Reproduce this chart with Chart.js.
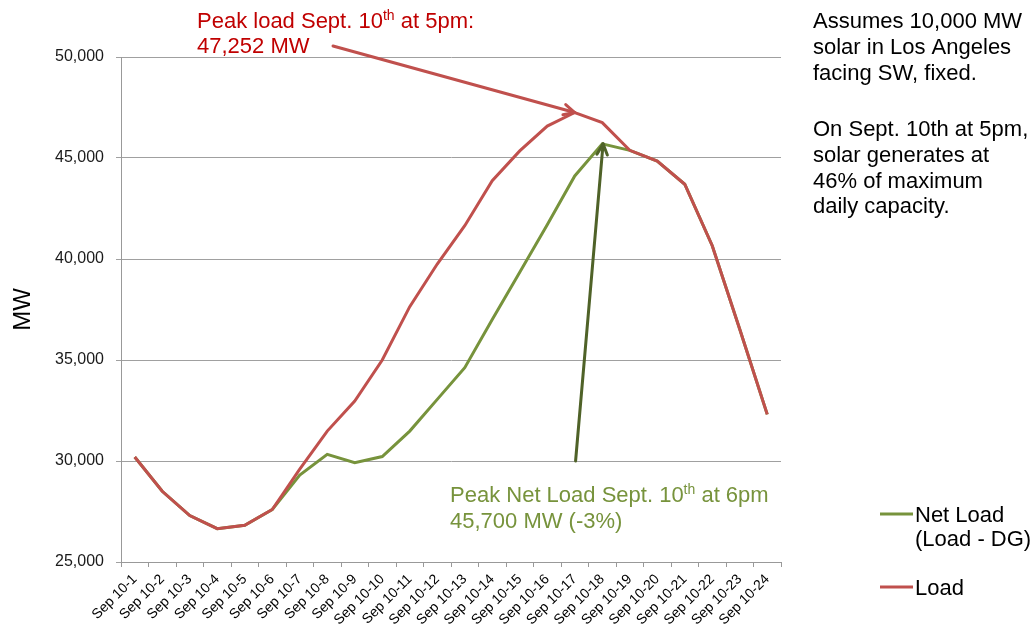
<!DOCTYPE html>
<html>
<head>
<meta charset="utf-8">
<script src="https://cdn.jsdelivr.net/npm/chart.js@4/dist/chart.umd.min.js"></script>
<style>
  html, body { margin: 0; padding: 0; background: #ffffff; }
  #wrap { position: relative; width: 1036px; height: 633px; }
</style>
</head>
<body>
<div id="wrap"><canvas id="c"></canvas></div>
<script>
// ---- Data ----
const categories = ['Sep 10-1','Sep 10-2','Sep 10-3','Sep 10-4','Sep 10-5','Sep 10-6','Sep 10-7','Sep 10-8',
  'Sep 10-9','Sep 10-10','Sep 10-11','Sep 10-12','Sep 10-13','Sep 10-14','Sep 10-15','Sep 10-16',
  'Sep 10-17','Sep 10-18','Sep 10-19','Sep 10-20','Sep 10-21','Sep 10-22','Sep 10-23','Sep 10-24'];
const loadMW = [30200, 28500, 27300, 26650, 26820, 27600, 29600, 31480, 32970, 35000, 37640, 39750,
  41650, 43880, 45350, 46580, 47252, 46750, 45380, 44850, 43700, 40660, 36520, 32310];
const netLoadMW = [30200, 28500, 27300, 26650, 26820, 27600, 29300, 30330, 29920, 30220, 31480, 33050,
  34620, 37010, 39340, 41700, 44110, 45700, 45380, 44850, 43700, 40660, 36520, 32310];
const yTicks = [25000, 30000, 35000, 40000, 45000, 50000];
const seriesNames = ['Load', 'Net Load'];
const legendLabels = [['Net Load', '(Load - DG)'], ['Load']];
const peakLoadIndex = 16, peakLoadValue = 47252;
const peakNetIndex = 17, peakNetValue = 45700;

const FONT = "'Liberation Sans', Arial, sans-serif";
const RED = '#c0504d', GREEN = '#77933c';

Chart.defaults.font.family = FONT;

function drawArrow(ctx, x1, y1, x2, y2, color, w) {
  ctx.save();
  ctx.strokeStyle = color; ctx.lineWidth = w; ctx.lineCap = 'round'; ctx.lineJoin = 'round';
  ctx.beginPath(); ctx.moveTo(x1, y1); ctx.lineTo(x2, y2); ctx.stroke();
  const a = Math.atan2(y2 - y1, x2 - x1), L = 12, s = 0.45;
  ctx.beginPath();
  ctx.moveTo(x2 - L * Math.cos(a - s), y2 - L * Math.sin(a - s));
  ctx.lineTo(x2, y2);
  ctx.lineTo(x2 - L * Math.cos(a + s), y2 - L * Math.sin(a + s));
  ctx.stroke();
  ctx.restore();
}

function supText(ctx, x, y, parts, size, color) {
  ctx.fillStyle = color; ctx.textBaseline = 'alphabetic'; ctx.textAlign = 'left';
  let cx = x;
  for (const [t, sup] of parts) {
    ctx.font = (sup ? Math.round(size * 0.65) : size) + 'px ' + FONT;
    ctx.fillText(t, cx, sup ? y - size * 0.36 : y);
    cx += ctx.measureText(t).width;
  }
}

const annotations = {
  id: 'annotations',
  afterDatasetsDraw(chart) {
    const ctx = chart.ctx, xs = chart.scales.x, ys = chart.scales.y;
    drawArrow(ctx, xs.getPixelForValue(7.21), ys.getPixelForValue(50545),
      xs.getPixelForValue(peakLoadIndex), ys.getPixelForValue(peakLoadValue), RED, 3);
    drawArrow(ctx, xs.getPixelForValue(16.03), ys.getPixelForValue(30000),
      xs.getPixelForValue(peakNetIndex + 0.03), ys.getPixelForValue(peakNetValue), '#4f6228', 3);
    supText(ctx, 197, 28, [['Peak load Sept. 10', false], ['th', true], [' at 5pm:', false]], 22, '#c00000');
    supText(ctx, 197, 53, [['47,252 MW', false]], 22, '#c00000');
    supText(ctx, 450, 502, [['Peak Net Load Sept. 10', false], ['th', true], [' at 6pm', false]], 22, GREEN);
    supText(ctx, 450, 528, [['45,700 MW (-3%)', false]], 22, GREEN);
    const notes = [['Assumes 10,000 MW', 28], ['solar in Los Angeles', 54], ['facing SW, fixed.', 80],
      ['On Sept. 10th at 5pm,', 136], ['solar generates at', 162], ['46% of maximum', 188], ['daily capacity.', 213]];
    for (const [t, y] of notes) supText(ctx, 813, y, [[t, false]], 22, '#000000');
    const items = [[GREEN, 514, legendLabels[0]], [RED, 587, legendLabels[1]]];
    for (const [col, y, lines] of items) {
      ctx.save(); ctx.strokeStyle = col; ctx.lineWidth = 3;
      ctx.beginPath(); ctx.moveTo(880, y); ctx.lineTo(913, y); ctx.stroke(); ctx.restore();
      lines.forEach((t, i) => supText(ctx, 915, y + 8 + i * 24, [[t, false]], 22, '#000000'));
    }
  }
};

new Chart(document.getElementById('c'), {
  type: 'line',
  data: {
    labels: categories,
    datasets: [
      { label: seriesNames[0], data: loadMW, borderColor: RED, backgroundColor: RED, borderWidth: 3,
        pointRadius: 0, tension: 0, fill: false },
      { label: seriesNames[1], data: netLoadMW, borderColor: GREEN, backgroundColor: GREEN, borderWidth: 3,
        pointRadius: 0, tension: 0, fill: false }
    ]
  },
  options: {
    responsive: true, maintainAspectRatio: false, animation: false,
    layout: { padding: { top: 57, right: 255, left: 0, bottom: 0 } },
    plugins: { legend: { display: false }, tooltip: { enabled: false } },
    scales: {
      x: {
        offset: true,
        grid: { display: true, drawOnChartArea: false, offset: true, color: '#999999', tickLength: 5 },
        border: { color: '#999999', width: 1 },
        ticks: { autoSkip: false, minRotation: 45, maxRotation: 45, color: '#000000', padding: 4,
          font: { size: 14, family: FONT } },
        afterFit(s) { s.height = 71; }
      },
      y: {
        min: 25000, max: 50000,
        afterBuildTicks(s) { s.ticks = yTicks.map(v => ({ value: v })); },
        grid: { color: '#a0a0a0', lineWidth: 1, tickLength: 5 },
        border: { color: '#999999', width: 1 },
        ticks: { color: '#1a1a1a', padding: 12, font: { size: 16, family: FONT },
          callback: v => v.toLocaleString('en-US') },
        title: { display: true, text: 'MW', color: '#000000', font: { size: 24, family: FONT },
          padding: { top: 9, bottom: 0 } },
        afterFit(s) { s.width = 121; }
      }
    }
  },
  plugins: [annotations]
});
</script>
</body>
</html>
